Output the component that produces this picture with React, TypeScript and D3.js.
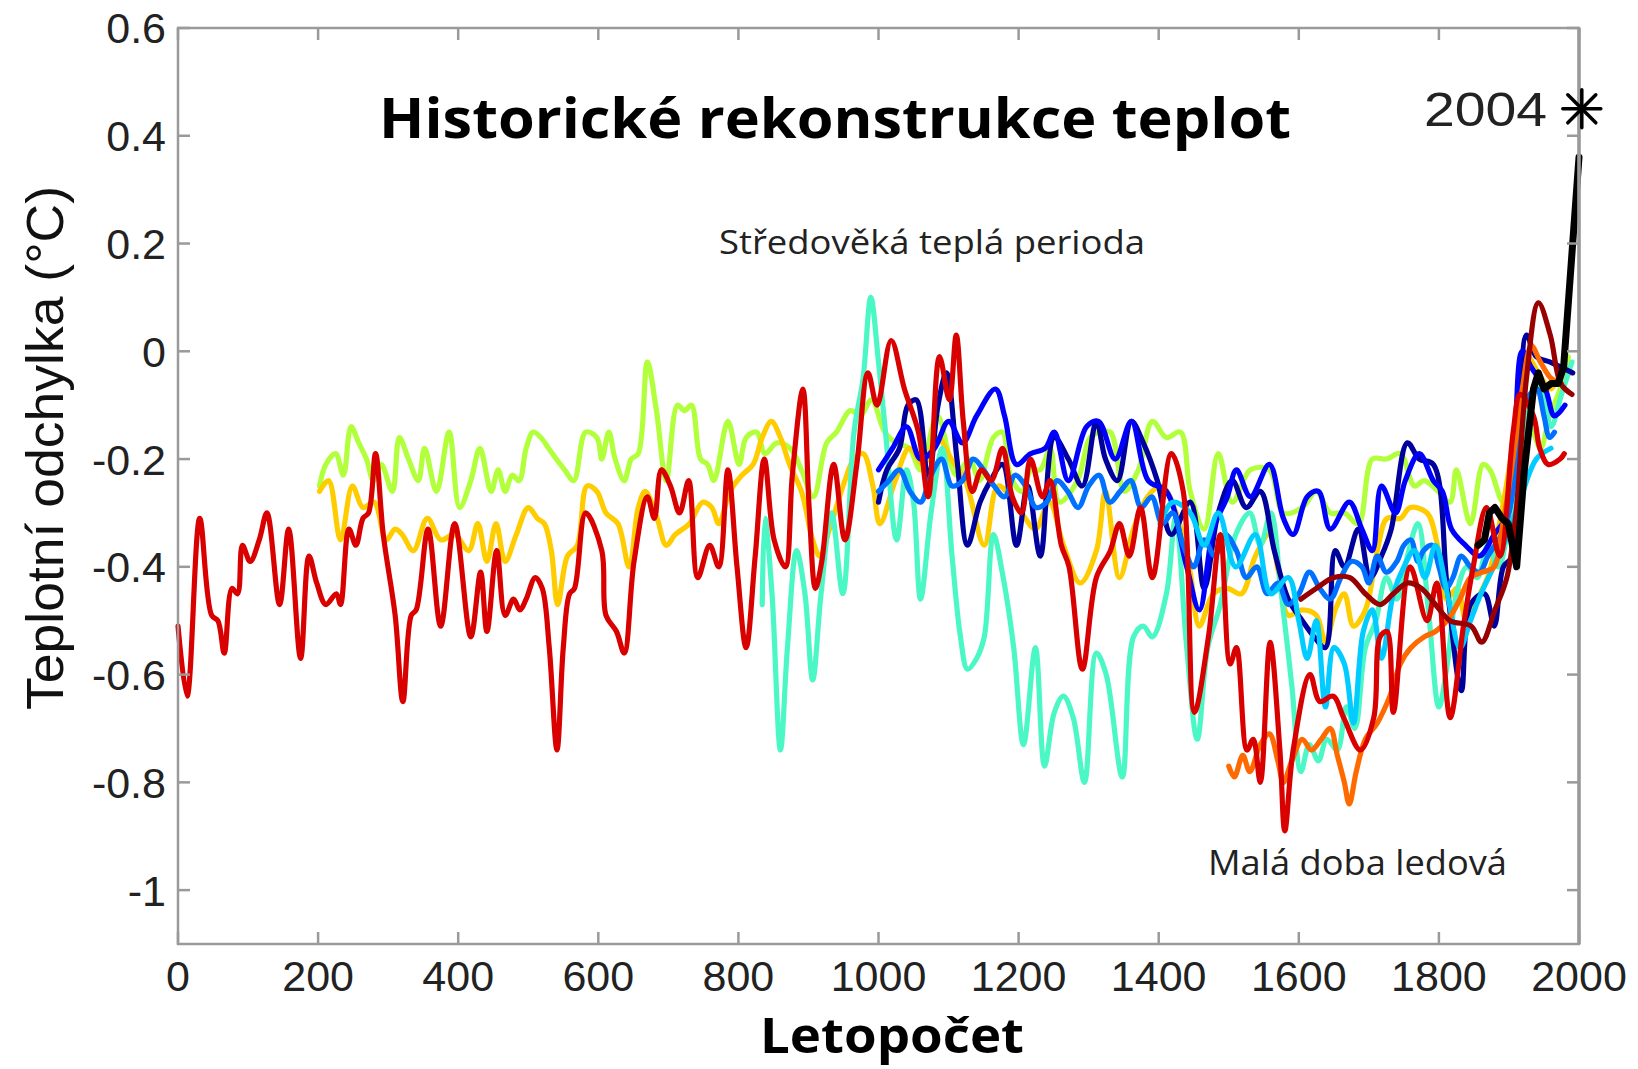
import * as d3 from 'd3'

const WIDTH = 1638
const HEIGHT = 1069
const PLOT = {left: 178, right: 1579, top: 28, bottom: 944}

const xTicks = [0, 200, 400, 600, 800, 1000, 1200, 1400, 1600, 1800, 2000]
const yTicks = [0.6, 0.4, 0.2, 0, -0.2, -0.4, -0.6, -0.8, -1]
const yTickLabels = ['0.6', '0.4', '0.2', '0', '-0.2', '-0.4', '-0.6', '-0.8', '-1']

type Pt = [number, number]

// Moberg (red), 1 - 1979
const moberg: Pt[] = [[0,-0.51],[13,-0.64],[31,-0.31],[48,-0.49],[57,-0.50],[66,-0.56],[77,-0.44],[85,-0.45],[92,-0.36],[103,-0.39],[116,-0.35],[127,-0.30],[145,-0.47],[158,-0.33],[175,-0.57],[187,-0.38],[198,-0.43],[211,-0.47],[226,-0.45],[232,-0.47],[244,-0.33],[254,-0.36],[264,-0.31],[272,-0.30],[282,-0.19],[293,-0.34],[310,-0.49],[321,-0.65],[333,-0.49],[340,-0.48],[357,-0.33],[375,-0.51],[395,-0.32],[418,-0.53],[432,-0.41],[441,-0.52],[455,-0.37],[467,-0.49],[479,-0.46],[488,-0.48],[497,-0.46],[510,-0.42],[520,-0.44],[530,-0.55],[541,-0.74],[550,-0.55],[559,-0.45],[566,-0.44],[582,-0.30],[605,-0.37],[611,-0.49],[626,-0.52],[637,-0.56],[651,-0.39],[670,-0.27],[680,-0.31],[690,-0.22],[703,-0.25],[716,-0.30],[729,-0.24],[742,-0.42],[759,-0.36],[772,-0.40],[785,-0.22],[798,-0.40],[811,-0.55],[824,-0.38],[837,-0.20],[851,-0.35],[867,-0.40],[877,-0.23],[892,-0.07],[901,-0.29],[910,-0.44],[919,-0.39],[936,-0.21],[952,-0.35],[969,-0.21],[985,-0.04],[998,-0.10],[1018,0.02],[1037,-0.07],[1057,-0.15],[1071,-0.27],[1087,-0.01],[1101,-0.09],[1111,0.03],[1121,-0.13],[1134,-0.26],[1147,-0.22],[1161,-0.24],[1177,-0.18],[1191,-0.27],[1204,-0.30],[1217,-0.20],[1234,-0.27],[1245,-0.24],[1261,-0.36],[1272,-0.40],[1291,-0.59],[1311,-0.42],[1331,-0.37],[1344,-0.32],[1358,-0.38],[1374,-0.29],[1391,-0.42],[1418,-0.19],[1435,-0.26],[1451,-0.67],[1471,-0.53],[1488,-0.34],[1502,-0.58],[1511,-0.55],[1526,-0.74],[1535,-0.72],[1545,-0.80],[1559,-0.54],[1573,-0.74],[1580,-0.89],[1592,-0.74],[1616,-0.60],[1630,-0.65],[1649,-0.64],[1664,-0.68],[1688,-0.74],[1707,-0.68],[1716,-0.53],[1726,-0.52],[1735,-0.67],[1759,-0.40],[1783,-0.50],[1797,-0.43],[1816,-0.68],[1835,-0.51],[1849,-0.40],[1868,-0.29],[1887,-0.38],[1906,-0.15],[1916,-0.08],[1935,-0.12],[1944,-0.18],[1956,-0.21],[1973,-0.20],[1979,-0.19]]

// lime, 200 - 1985
const lime: Pt[] = [[202,-0.25],[211,-0.21],[225,-0.19],[236,-0.23],[247,-0.14],[258,-0.17],[269,-0.20],[279,-0.24],[290,-0.21],[306,-0.26],[316,-0.16],[329,-0.20],[343,-0.24],[352,-0.18],[369,-0.26],[387,-0.15],[402,-0.29],[418,-0.24],[431,-0.18],[447,-0.26],[457,-0.22],[467,-0.26],[477,-0.23],[487,-0.24],[497,-0.18],[507,-0.15],[518,-0.16],[529,-0.18],[540,-0.20],[552,-0.22],[565,-0.24],[582,-0.15],[598,-0.16],[605,-0.20],[615,-0.15],[624,-0.20],[637,-0.24],[647,-0.20],[657,-0.19],[670,-0.02],[683,-0.11],[697,-0.24],[713,-0.10],[723,-0.11],[733,-0.10],[746,-0.20],[756,-0.21],[765,-0.24],[785,-0.13],[801,-0.21],[811,-0.16],[826,-0.15],[838,-0.19],[855,-0.17],[874,-0.18],[890,-0.22],[907,-0.27],[926,-0.17],[940,-0.15],[960,-0.11],[974,-0.12],[990,-0.09],[1009,-0.15],[1025,-0.17],[1044,-0.18],[1060,-0.22],[1084,-0.12],[1111,-0.23],[1130,-0.20],[1144,-0.24],[1164,-0.16],[1177,-0.15],[1188,-0.23],[1204,-0.26],[1218,-0.22],[1231,-0.22],[1245,-0.18],[1258,-0.28],[1284,-0.24],[1302,-0.16],[1316,-0.15],[1331,-0.15],[1351,-0.26],[1371,-0.22],[1391,-0.13],[1411,-0.16],[1431,-0.15],[1445,-0.26],[1465,-0.33],[1485,-0.19],[1505,-0.28],[1531,-0.22],[1558,-0.22],[1578,-0.30],[1605,-0.29],[1625,-0.26],[1645,-0.30],[1665,-0.30],[1685,-0.32],[1705,-0.20],[1725,-0.20],[1745,-0.19],[1765,-0.25],[1779,-0.24],[1799,-0.26],[1816,-0.28],[1825,-0.22],[1845,-0.32],[1863,-0.21],[1873,-0.22],[1892,-0.28],[1910,-0.22],[1925,-0.14],[1934,-0.15],[1945,-0.18],[1958,-0.12],[1973,-0.07],[1985,-0.01]]

// gold, 200 - 1990
const gold: Pt[] = [[202,-0.26],[215,-0.24],[232,-0.35],[249,-0.25],[264,-0.29],[280,-0.28],[297,-0.35],[310,-0.33],[320,-0.34],[336,-0.37],[356,-0.31],[375,-0.35],[395,-0.34],[415,-0.37],[428,-0.32],[441,-0.39],[454,-0.32],[467,-0.39],[483,-0.34],[500,-0.29],[513,-0.31],[523,-0.32],[533,-0.37],[542,-0.47],[556,-0.38],[570,-0.36],[584,-0.25],[598,-0.26],[611,-0.30],[628,-0.32],[644,-0.40],[657,-0.29],[667,-0.26],[684,-0.31],[697,-0.36],[710,-0.34],[730,-0.32],[749,-0.28],[762,-0.29],[772,-0.32],[788,-0.26],[805,-0.23],[821,-0.21],[834,-0.16],[847,-0.13],[860,-0.16],[873,-0.21],[890,-0.26],[906,-0.35],[916,-0.38],[930,-0.33],[952,-0.24],[965,-0.20],[978,-0.19],[992,-0.25],[1002,-0.32],[1024,-0.24],[1044,-0.18],[1064,-0.21],[1084,-0.16],[1104,-0.20],[1124,-0.24],[1151,-0.36],[1171,-0.25],[1204,-0.30],[1224,-0.33],[1244,-0.28],[1264,-0.36],[1288,-0.43],[1311,-0.37],[1324,-0.26],[1344,-0.42],[1364,-0.33],[1384,-0.27],[1404,-0.25],[1425,-0.30],[1445,-0.41],[1458,-0.51],[1478,-0.45],[1498,-0.44],[1518,-0.45],[1538,-0.38],[1558,-0.34],[1571,-0.41],[1585,-0.49],[1605,-0.48],[1625,-0.49],[1638,-0.54],[1652,-0.48],[1665,-0.45],[1678,-0.51],[1695,-0.48],[1712,-0.37],[1726,-0.31],[1745,-0.31],[1759,-0.29],[1783,-0.30],[1798,-0.36],[1811,-0.46],[1826,-0.44],[1839,-0.50],[1855,-0.46],[1872,-0.41],[1885,-0.33],[1900,-0.22],[1912,-0.11],[1926,-0.01],[1942,-0.04],[1959,-0.07],[1972,-0.05],[1990,-0.04]]

// aquamarine, 831 - 1992
const aqua: Pt[] = [[834,-0.47],[838,-0.31],[848,-0.45],[860,-0.74],[870,-0.55],[883,-0.37],[895,-0.45],[906,-0.61],[918,-0.45],[933,-0.30],[949,-0.45],[965,-0.15],[978,-0.05],[989,0.10],[1000,-0.02],[1010,-0.15],[1026,-0.35],[1040,-0.22],[1050,-0.28],[1060,-0.46],[1075,-0.30],[1091,-0.18],[1105,-0.38],[1117,-0.53],[1127,-0.59],[1140,-0.57],[1151,-0.53],[1164,-0.34],[1178,-0.42],[1193,-0.55],[1207,-0.73],[1224,-0.55],[1237,-0.77],[1251,-0.67],[1264,-0.64],[1278,-0.68],[1294,-0.80],[1311,-0.56],[1325,-0.60],[1348,-0.79],[1364,-0.53],[1378,-0.51],[1391,-0.53],[1411,-0.45],[1424,-0.31],[1440,-0.55],[1455,-0.72],[1470,-0.55],[1488,-0.47],[1510,-0.34],[1530,-0.30],[1545,-0.36],[1560,-0.30],[1575,-0.45],[1590,-0.62],[1603,-0.78],[1615,-0.73],[1628,-0.76],[1640,-0.72],[1655,-0.74],[1668,-0.66],[1680,-0.70],[1695,-0.55],[1710,-0.50],[1725,-0.42],[1740,-0.46],[1755,-0.38],[1770,-0.32],[1785,-0.48],[1800,-0.66],[1812,-0.58],[1825,-0.45],[1840,-0.40],[1855,-0.42],[1870,-0.36],[1885,-0.40],[1900,-0.32],[1915,-0.22],[1930,-0.10],[1945,-0.06],[1960,-0.14],[1975,-0.08],[1990,-0.02]]

// navy, 1000 - 1991
const navy: Pt[] = [[1000,-0.28],[1012,-0.22],[1030,-0.18],[1042,-0.10],[1054,-0.09],[1071,-0.24],[1085,-0.10],[1097,-0.04],[1112,-0.20],[1127,-0.36],[1145,-0.28],[1160,-0.24],[1177,-0.21],[1197,-0.36],[1213,-0.25],[1231,-0.38],[1251,-0.16],[1271,-0.20],[1291,-0.25],[1311,-0.13],[1324,-0.20],[1341,-0.24],[1361,-0.13],[1378,-0.17],[1398,-0.24],[1418,-0.34],[1445,-0.28],[1465,-0.44],[1485,-0.30],[1505,-0.24],[1525,-0.29],[1545,-0.26],[1565,-0.37],[1585,-0.46],[1605,-0.50],[1622,-0.53],[1638,-0.55],[1652,-0.37],[1665,-0.40],[1685,-0.33],[1702,-0.42],[1718,-0.38],[1732,-0.33],[1755,-0.17],[1772,-0.20],[1792,-0.21],[1812,-0.44],[1832,-0.63],[1845,-0.47],[1865,-0.45],[1879,-0.51],[1892,-0.40],[1905,-0.38],[1925,0.03],[1939,-0.01],[1959,-0.02],[1975,-0.03],[1991,-0.04]]

// blue, 1000 - 1980
const blue: Pt[] = [[1000,-0.22],[1020,-0.18],[1040,-0.14],[1060,-0.20],[1080,-0.18],[1100,-0.13],[1120,-0.17],[1140,-0.12],[1167,-0.07],[1180,-0.12],[1197,-0.21],[1217,-0.19],[1238,-0.18],[1251,-0.15],[1271,-0.24],[1297,-0.14],[1314,-0.13],[1338,-0.20],[1361,-0.13],[1385,-0.24],[1411,-0.26],[1440,-0.40],[1458,-0.48],[1478,-0.33],[1498,-0.27],[1511,-0.22],[1531,-0.27],[1558,-0.21],[1578,-0.31],[1592,-0.34],[1612,-0.27],[1628,-0.26],[1645,-0.33],[1672,-0.28],[1690,-0.33],[1705,-0.37],[1718,-0.25],[1738,-0.30],[1752,-0.24],[1772,-0.19],[1792,-0.24],[1805,-0.26],[1818,-0.33],[1838,-0.36],[1858,-0.38],[1879,-0.34],[1899,-0.30],[1919,0.0],[1932,-0.03],[1952,-0.07],[1965,-0.12],[1980,-0.10]]

// mid blue, 1000 - 1965
const midBlue: Pt[] = [[1000,-0.26],[1015,-0.24],[1030,-0.22],[1045,-0.26],[1060,-0.28],[1075,-0.23],[1090,-0.20],[1105,-0.25],[1120,-0.24],[1135,-0.20],[1150,-0.22],[1165,-0.25],[1180,-0.27],[1195,-0.23],[1210,-0.25],[1225,-0.29],[1240,-0.28],[1255,-0.24],[1270,-0.26],[1285,-0.29],[1300,-0.25],[1315,-0.23],[1330,-0.28],[1345,-0.26],[1360,-0.24],[1375,-0.29],[1390,-0.27],[1405,-0.32],[1420,-0.30],[1435,-0.36],[1450,-0.40],[1465,-0.35],[1480,-0.38],[1495,-0.34],[1511,-0.37],[1525,-0.42],[1540,-0.40],[1555,-0.45],[1570,-0.43],[1585,-0.47],[1600,-0.45],[1615,-0.41],[1630,-0.44],[1645,-0.46],[1660,-0.42],[1675,-0.39],[1690,-0.40],[1700,-0.43],[1712,-0.38],[1725,-0.41],[1740,-0.39],[1750,-0.36],[1760,-0.35],[1770,-0.39],[1778,-0.37],[1790,-0.36],[1800,-0.40],[1810,-0.44],[1820,-0.42],[1832,-0.38],[1845,-0.40],[1858,-0.41],[1870,-0.38],[1880,-0.36],[1890,-0.34],[1900,-0.30],[1912,-0.20],[1922,-0.10],[1930,-0.08],[1940,-0.07],[1950,-0.12],[1958,-0.16],[1965,-0.15]]

// cyan, 1402 - 1960
const cyan: Pt[] = [[1402,-0.32],[1420,-0.28],[1445,-0.30],[1465,-0.36],[1485,-0.30],[1510,-0.40],[1538,-0.34],[1560,-0.45],[1585,-0.42],[1600,-0.50],[1612,-0.57],[1625,-0.50],[1638,-0.66],[1650,-0.55],[1665,-0.58],[1678,-0.69],[1692,-0.52],[1705,-0.48],[1718,-0.57],[1735,-0.45],[1750,-0.40],[1765,-0.37],[1780,-0.42],[1795,-0.36],[1812,-0.45],[1830,-0.55],[1845,-0.50],[1860,-0.45],[1878,-0.40],[1895,-0.35],[1915,-0.28],[1939,-0.20],[1960,-0.18]]

// orange, 1500 - 1980
const orange: Pt[] = [[1500,-0.77],[1508,-0.79],[1520,-0.75],[1530,-0.78],[1545,-0.73],[1558,-0.71],[1570,-0.76],[1578,-0.80],[1590,-0.76],[1605,-0.72],[1618,-0.74],[1632,-0.72],[1645,-0.70],[1655,-0.75],[1665,-0.80],[1672,-0.84],[1682,-0.78],[1695,-0.72],[1712,-0.69],[1730,-0.64],[1745,-0.58],[1760,-0.55],[1779,-0.53],[1795,-0.52],[1812,-0.50],[1830,-0.46],[1845,-0.42],[1862,-0.41],[1879,-0.40],[1890,-0.33],[1899,-0.26],[1910,-0.16],[1919,-0.07],[1932,0.01],[1945,-0.02],[1960,-0.05],[1975,-0.06]]

// dark red, 1600 - 1990
const darkRed: Pt[] = [[1603,-0.46],[1625,-0.44],[1650,-0.42],[1673,-0.42],[1695,-0.45],[1716,-0.47],[1735,-0.45],[1755,-0.43],[1775,-0.44],[1795,-0.47],[1816,-0.50],[1846,-0.51],[1861,-0.54],[1880,-0.48],[1897,-0.42],[1910,-0.30],[1925,-0.05],[1942,0.09],[1959,0.03],[1974,-0.06],[1990,-0.08]]

// instrumental record (black)
const instrumental: Pt[] = [[1856,-0.36],[1865,-0.35],[1872,-0.30],[1880,-0.29],[1890,-0.31],[1899,-0.32],[1911,-0.40],[1922,-0.22],[1935,-0.07],[1942,-0.04],[1950,-0.07],[1960,-0.06],[1970,-0.06],[1978,-0.03],[2000,0.36]]

const marker2004: Pt = [2004, 0.45]

const series = [
  {data: lime, color: '#b2ff3c'},
  {data: gold, color: '#ffcc00'},
  {data: aqua, color: '#4cf7c6'},
  {data: navy, color: '#00009c'},
  {data: blue, color: '#0000ff'},
  {data: midBlue, color: '#0070ff'},
  {data: cyan, color: '#00ccff'},
  {data: orange, color: '#ff6a00'},
  {data: moberg, color: '#d90000'},
  {data: darkRed, color: '#990000'},
]

export default function App() {
  const x = d3.scaleLinear().domain([0, 2000]).range([PLOT.left, PLOT.right])
  const y = d3.scaleLinear().domain([-1.1, 0.6]).range([PLOT.bottom, PLOT.top])

  const line = d3.line<Pt>()
    .x(d => x(d[0]))
    .y(d => y(d[1]))
    .curve(d3.curveCatmullRom.alpha(0.5))

  const straight = d3.line<Pt>().x(d => x(d[0])).y(d => y(d[1]))

  const frame = '#9a9a9a'
  const tickLen = 12
  const sans = 'Liberation Sans, Arial, sans-serif'
  const humanist = 'Open Sans, Lato, sans-serif'

  const mx = x(marker2004[0])
  const my = y(marker2004[1])

  return (
    <svg
      width={WIDTH}
      height={HEIGHT}
      viewBox={`0 0 ${WIDTH} ${HEIGHT}`}
      style={{position: 'absolute', left: 0, top: 0, background: '#fff'}}
    >
      <rect x={0} y={0} width={WIDTH} height={HEIGHT} fill={'#fff'} />

      {/* series */}
      <g fill={'none'} strokeLinejoin={'round'} strokeLinecap={'round'}>
        {series.map((s, i) => (
          <path key={i} d={line(s.data) ?? undefined} stroke={s.color} strokeWidth={5.2} />
        ))}
        <path d={straight(instrumental) ?? undefined} stroke={'#000'} strokeWidth={7} />
      </g>

      {/* frame + ticks */}
      <g stroke={frame} strokeWidth={2.5} fill={'none'}>
        <rect x={PLOT.left} y={PLOT.top} width={PLOT.right - PLOT.left} height={PLOT.bottom - PLOT.top} />
        <line x1={PLOT.right} x2={PLOT.right} y1={PLOT.top} y2={PLOT.bottom} strokeWidth={3.5} />
        {xTicks.map(t => (
          <g key={t}>
            <line x1={x(t)} x2={x(t)} y1={PLOT.bottom} y2={PLOT.bottom - tickLen} />
            <line x1={x(t)} x2={x(t)} y1={PLOT.top} y2={PLOT.top + tickLen} />
          </g>
        ))}
        {yTicks.map(t => (
          <g key={t}>
            <line x1={PLOT.left} x2={PLOT.left + tickLen} y1={y(t)} y2={y(t)} />
            <line x1={PLOT.right} x2={PLOT.right - tickLen} y1={y(t)} y2={y(t)} />
          </g>
        ))}
      </g>

      {/* tick labels */}
      <g fontFamily={sans} fontSize={43} fill={'#222'}>
        {yTicks.map((t, i) => (
          <text key={t} x={166} y={y(t)} dy={'0.36em'} textAnchor={'end'}>
            {yTickLabels[i]}
          </text>
        ))}
        {xTicks.map(t => (
          <text key={t} x={x(t)} y={991} textAnchor={'middle'}>
            {t}
          </text>
        ))}
      </g>

      {/* axis titles */}
      <text
        transform={`translate(63, 448) rotate(-90)`}
        textAnchor={'middle'}
        fontFamily={sans}
        fontSize={52}
        textLength={524}
        lengthAdjust={'spacingAndGlyphs'}
        fill={'#111'}
      >
        Teplotní odchylka  (°C)
      </text>
      <text
        x={760}
        y={1053}
        fontFamily={humanist}
        fontWeight={700}
        fontSize={48}
        textLength={264}
        lengthAdjust={'spacingAndGlyphs'}
        fill={'#000'}
      >
        Letopočet
      </text>

      {/* title and annotations */}
      <text
        x={379}
        y={138}
        fontFamily={humanist}
        fontWeight={700}
        fontSize={55}
        textLength={912}
        lengthAdjust={'spacingAndGlyphs'}
        fill={'#000'}
      >
        Historické rekonstrukce teplot
      </text>
      <text
        x={719}
        y={254}
        fontFamily={humanist}
        fontSize={33}
        textLength={426}
        lengthAdjust={'spacingAndGlyphs'}
        fill={'#222'}
      >
        Středověká teplá perioda
      </text>
      <text
        x={1208}
        y={875}
        fontFamily={humanist}
        fontSize={34}
        textLength={299}
        lengthAdjust={'spacingAndGlyphs'}
        fill={'#222'}
      >
        Malá doba ledová
      </text>
      <text
        x={1424}
        y={126}
        fontFamily={sans}
        fontSize={48}
        textLength={123}
        lengthAdjust={'spacingAndGlyphs'}
        fill={'#222'}
      >
        2004
      </text>

      {/* 2004 asterisk */}
      <g stroke={'#000'} strokeWidth={3.5} strokeLinecap={'round'}>
        <line x1={mx} x2={mx} y1={my - 19} y2={my + 19} />
        <line x1={mx - 19} x2={mx + 19} y1={my} y2={my} />
        <line x1={mx - 14} x2={mx + 14} y1={my - 14} y2={my + 14} />
        <line x1={mx - 14} x2={mx + 14} y1={my + 14} y2={my - 14} />
      </g>
    </svg>
  )
}
